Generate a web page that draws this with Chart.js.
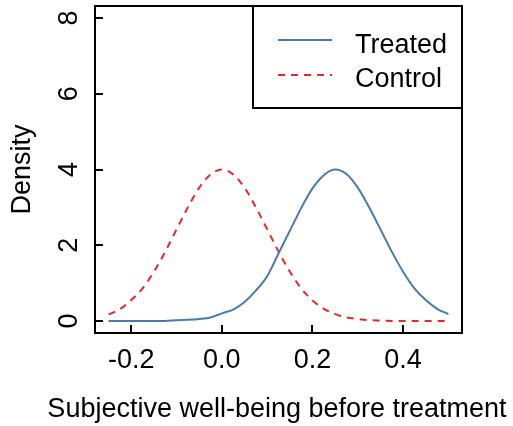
<!DOCTYPE html>
<html>
<head>
<meta charset="utf-8">
<script src="https://cdn.jsdelivr.net/npm/chart.js@4"></script>
<style>
  body { margin: 0; background: #fff; }
  canvas { display: block; }
</style>
</head>
<body>
<canvas id="densityChart" width="513" height="426"></canvas>
<script>
// density estimates, x = -0.25 .. 0.5 by 0.025
const xValues = [-0.25, -0.225, -0.2, -0.175, -0.15, -0.125, -0.1, -0.075, -0.05, -0.025,
    0, 0.025, 0.05, 0.075, 0.1, 0.125, 0.15, 0.175, 0.2, 0.225,
    0.25, 0.275, 0.3, 0.325, 0.35, 0.375, 0.4, 0.425, 0.45, 0.475, 0.5];
const treated = [0, 0, 0, 0, 0, 0, 0.02, 0.03, 0.05, 0.09,
    0.2, 0.3, 0.5, 0.8, 1.18, 1.78, 2.38, 2.98, 3.5, 3.85,
    4.0, 3.88, 3.52, 3.0, 2.42, 1.83, 1.3, 0.86, 0.55, 0.32, 0.18];
const control = [0.17, 0.31, 0.55, 0.86, 1.3, 1.83, 2.42, 3.0, 3.52, 3.87,
    4.0, 3.87, 3.52, 3.0, 2.42, 1.83, 1.3, 0.86, 0.54, 0.32,
    0.18, 0.09, 0.05, 0.02, 0.01, 0, 0, 0, 0, 0, 0];
const xTicks = [-0.2, 0, 0.2, 0.4];
const yTicks = [0, 2, 4, 6, 8];
const seriesNames = ['Treated', 'Control'];
const xTitle = 'Subjective well-being before treatment';

const FONT = "'Liberation Sans', Arial, sans-serif";
const BLUE = '#4a7bab';
const RED = '#e8262e';

function toPoints(ys) {
    return xValues.map((x, i) => ({ x: x, y: ys[i] }));
}

// box around the plot, inward tick marks, legend box (R style)
const frame = {
    id: 'frame',
    afterDraw(chart) {
        const ctx = chart.ctx;
        const a = chart.chartArea;
        const xs = chart.scales.x;
        const ys = chart.scales.y;
        ctx.save();
        ctx.strokeStyle = '#000';
        ctx.lineWidth = 2;
        ctx.strokeRect(a.left, a.top, a.right - a.left, a.bottom - a.top);
        ctx.beginPath();
        for (const t of xTicks) {
            const px = Math.round(xs.getPixelForValue(t));
            ctx.moveTo(px, a.bottom);
            ctx.lineTo(px, a.bottom - 8);
        }
        for (const t of yTicks) {
            const py = Math.round(ys.getPixelForValue(t));
            ctx.moveTo(a.left, py);
            ctx.lineTo(a.left + 8, py);
        }
        ctx.stroke();

        ctx.font = '27px ' + FONT;
        ctx.fillStyle = '#000';
        ctx.textBaseline = 'alphabetic';
        ctx.textAlign = 'center';
        ctx.fillText(xTitle, 277, 417);

        // legend
        const lx = 253, ly = a.top, lw = a.right - 253, lh = 102;
        ctx.fillStyle = '#fff';
        ctx.fillRect(lx, ly, lw, lh);
        ctx.strokeRect(lx, ly, lw, lh);
        const rows = [
            { name: seriesNames[0], color: BLUE, dash: [], y: 40, base: 53 },
            { name: seriesNames[1], color: RED, dash: [7, 6], y: 75, base: 87 }
        ];
        ctx.textAlign = 'left';
        for (const r of rows) {
            ctx.strokeStyle = r.color;
            ctx.setLineDash(r.dash);
            ctx.beginPath();
            ctx.moveTo(278, r.y);
            ctx.lineTo(332, r.y);
            ctx.stroke();
            ctx.fillStyle = '#000';
            ctx.fillText(r.name, 355, r.base);
        }
        ctx.restore();
    }
};

const ctx = document.getElementById('densityChart').getContext('2d');
const myChart = new Chart(ctx, {
    type: 'line',
    data: {
        datasets: [{
            label: seriesNames[0],
            data: toPoints(treated),
            borderColor: BLUE,
            borderWidth: 2,
            pointRadius: 0,
            cubicInterpolationMode: 'monotone',
            fill: false
        }, {
            label: seriesNames[1],
            data: toPoints(control),
            borderColor: RED,
            borderWidth: 2,
            borderDash: [7, 6],
            pointRadius: 0,
            cubicInterpolationMode: 'monotone',
            fill: false
        }]
    },
    options: {
        responsive: false,
        animation: false,
        layout: { padding: { top: 6, right: 51, left: 0, bottom: 0 } },
        plugins: {
            legend: { display: false },
            tooltip: { enabled: false }
        },
        scales: {
            x: {
                type: 'linear',
                min: -0.28,
                max: 0.53,
                afterBuildTicks: (scale) => { scale.ticks = xTicks.map(v => ({ value: v })); },
                afterFit: (scale) => {
                    scale.height = 93;
                    scale.paddingLeft = 0;
                    scale.paddingRight = 0;
                },
                grid: { display: false, drawTicks: false },
                border: { display: false },
                ticks: {
                    color: '#000',
                    font: { family: FONT, size: 27 },
                    padding: 11,
                    maxRotation: 0,
                    callback: (v) => v.toFixed(1)
                }
            },
            y: {
                min: -0.32,
                max: 8.32,
                afterBuildTicks: (scale) => { scale.ticks = yTicks.map(v => ({ value: v })); },
                afterFit: (scale) => {
                    scale.width = 95;
                    scale.paddingTop = 0;
                    scale.paddingBottom = 0;
                },
                grid: { display: false, drawTicks: false },
                border: { display: false },
                ticks: {
                    color: '#000',
                    font: { family: FONT, size: 27 },
                    padding: 18,
                    minRotation: 90,
                    maxRotation: 90,
                    crossAlign: 'center',
                    callback: (v) => String(v)
                },
                title: {
                    display: true,
                    text: 'Density',
                    color: '#000',
                    font: { family: FONT, size: 27 },
                    padding: { top: 6, bottom: 0 }
                }
            }
        }
    },
    plugins: [frame]
});
</script>
</body>
</html>
